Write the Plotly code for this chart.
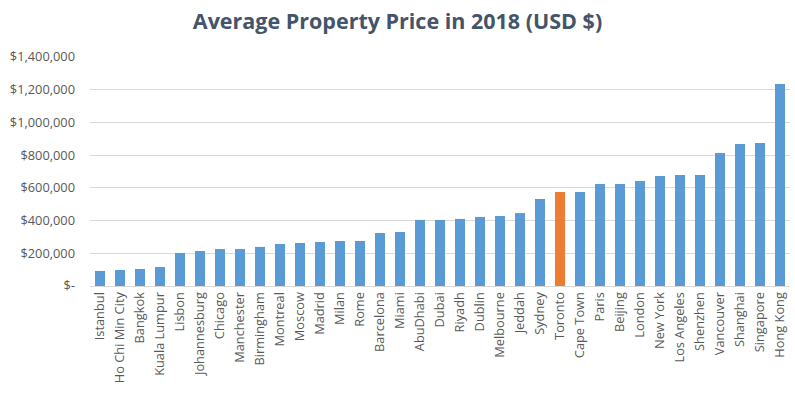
import plotly.graph_objects as go

cities = ["Istanbul", "Ho Chi Min City", "Bangkok", "Kuala Lumpur", "Lisbon", "Johannesburg",
          "Chicago", "Manchester", "Birmingham", "Montreal", "Moscow", "Madrid", "Milan", "Rome",
          "Barcelona", "Miami", "AbuDhabi", "Dubai", "Riyadh", "Dublin", "Melbourne", "Jeddah",
          "Sydney", "Toronto", "Cape Town", "Paris", "Beijing", "London", "New York",
          "Los Angeles", "Shenzhen", "Vancouver", "Shanghai", "Singapore", "Hong Kong"]
prices = [92000, 98000, 104000, 116000, 202000, 214000, 226000, 226000, 239000, 257000,
          263000, 269000, 275000, 275000, 324000, 330000, 404000, 404000, 410000, 422000,
          428000, 446000, 532000, 575000, 575000, 624000, 624000, 642000, 673000, 679000,
          679000, 813000, 868000, 874000, 1235000]
highlight = "Toronto"

tick_vals = [0, 200000, 400000, 600000, 800000, 1000000, 1200000, 1400000]
tick_text = ["$-", "$200,000", "$400,000", "$600,000", "$800,000", "$1,000,000", "$1,200,000", "$1,400,000"]

colors = ["#ED7D31" if c == highlight else "#5B9BD5" for c in cities]

fig = go.Figure(go.Bar(x=cities, y=prices, marker=dict(color=colors, line=dict(width=0)),
                       width=0.5))

fig.update_layout(
    width=795, height=397, autosize=False,
    margin=dict(l=90, r=5, t=57, b=111),
    paper_bgcolor="white", plot_bgcolor="white",
    showlegend=False,
    title=dict(text="<b>Average Property Price in 2018 (USD $)</b>",
               x=0.5, xanchor="center", y=1 - 21 / 397, yanchor="middle",
               font=dict(family="Open Sans", size=21.5, color="#44546A")),
    font=dict(family="Open Sans", size=12.8, color="#595959"),
)
fig.update_yaxes(range=[0, 1400000], tickvals=tick_vals, ticktext=tick_text,
                 showgrid=True, gridcolor="#D9D9D9", gridwidth=1, zeroline=False,
                 showline=False, ticks="", ticklabelstandoff=14, automargin=False,
                 tickfont=dict(family="Open Sans", size=12.8, color="#595959"))
fig.update_xaxes(tickangle=-90, showline=True, linecolor="#D9D9D9", linewidth=1,
                 ticks="", showgrid=False, automargin=False,
                 tickfont=dict(family="Open Sans", size=12.8, color="#595959"))

fig.write_html("out.html", config={"displayModeBar": False},
               post_script="document.body.style.margin='0';document.body.style.padding='0';")
